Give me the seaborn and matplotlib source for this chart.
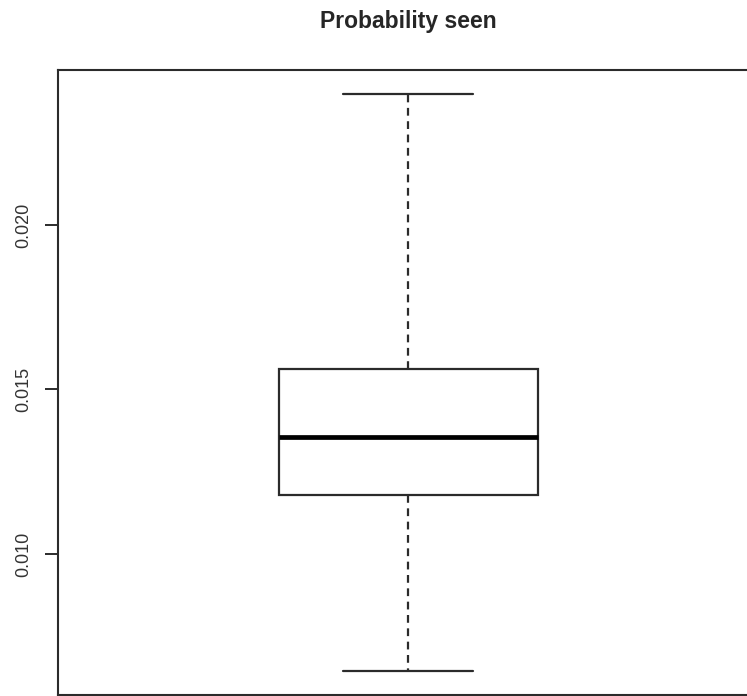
import numpy as np
import pandas as pd
import matplotlib
matplotlib.use("Agg")
import matplotlib.pyplot as plt
import seaborn as sns

# five-number summary
stat_names = ["min", "q1", "median", "q3", "max"]
prob_seen = [0.006444, 0.011778, 0.013571, 0.015608, 0.023980]
ytick_vals = [0.010, 0.015, 0.020]
ytick_labels = ["0.010", "0.015", "0.020"]
title = "Probability seen"

sns.set_style("white")
plt.rcParams["font.family"] = ["Liberation Sans", "DejaVu Sans"]

df = pd.DataFrame({"stat": stat_names, "prob": prob_seen})

W, H = 747, 696
fig = plt.figure(figsize=(W / 100, H / 100), dpi=100)
# plot region runs past the right edge, like the clipped original
ax = fig.add_axes([58 / W, 1 - 695 / H, 700 / W, (695 - 70) / H])
ink = "#2b2b2b"

sns.boxplot(y=df["prob"], ax=ax, width=0.37, whis=(0, 100),
            color="white", linecolor=ink, linewidth=1.6,
            medianprops={"linewidth": 3.4, "color": "black"},
            whiskerprops={"linestyle": (0, (3.5, 2.5))})

ax.set_xlim(-0.5, 0.5)
ax.set_ylim(0.005714, 0.024711)
ax.set_xticks([])
ax.set_yticks(ytick_vals)
ax.set_yticklabels(ytick_labels)
ax.set_xlabel("")
ax.set_ylabel("")
plt.setp(ax.get_yticklabels(), rotation=90, va="center")
ax.tick_params(axis="y", left=True, length=9.4, width=1.4, color=ink,
               pad=9, labelsize=13, labelcolor="#333333")
for s in ax.spines.values():
    s.set_linewidth(1.5)
    s.set_color(ink)

ax.set_title(title, fontweight="bold", fontsize=16.5, pad=30)

fig.savefig("out.png", dpi=100)
